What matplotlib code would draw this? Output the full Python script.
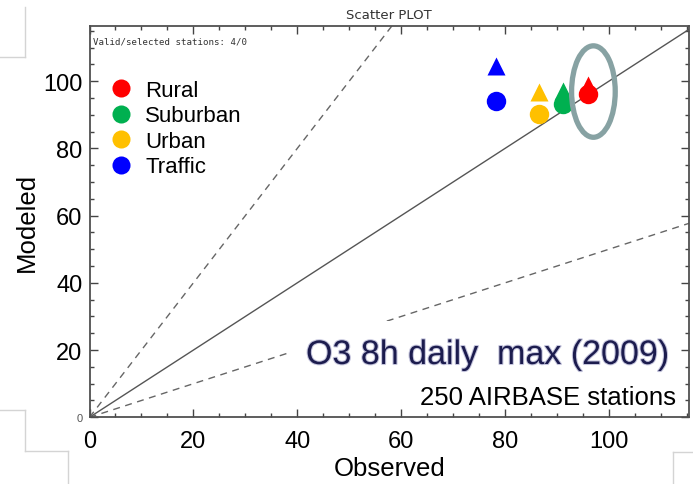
import numpy as np
import matplotlib
matplotlib.use('Agg')
import matplotlib.pyplot as plt
import matplotlib.patheffects as pe
from matplotlib.patches import Ellipse, Rectangle
from matplotlib.lines import Line2D

# station types and their mean values (observed vs modeled)
categories = ['Rural', 'Suburban', 'Urban', 'Traffic']
colors = ['#ff0000', '#00b050', '#ffc000', '#0000ff']
observed = [96.0, 91.1, 86.5, 78.3]
modeled_circle = [96.2, 93.1, 90.3, 94.2]
modeled_triangle = [98.9, 97.0, 96.8, 104.5]

xticks = [0, 20, 40, 60, 80, 100]
yticks = [0, 20, 40, 60, 80, 100]
xmax, ymax = 115.4, 116.4

plt.rcParams['font.family'] = ['Liberation Sans', 'DejaVu Sans']

W, H = 693, 485
fig = plt.figure(figsize=(W / 100, H / 100), dpi=100)
fx = lambda px: px / W
fy = lambda py: 1 - py / H
ax = fig.add_axes([fx(89.5), fy(418.3), fx(689) - fx(89.5), fy(27) - fy(418.3)])

# 1:1 line and factor-2 lines
xx = np.array([0, xmax])
ax.plot(xx, xx, c='#555555', lw=1.0, zorder=2)
ax.plot(xx, 2 * xx, c='#666666', lw=1.0, ls=(0, (5, 4)), zorder=2)
ax.plot(xx, 0.5 * xx, c='#666666', lw=1.0, ls=(0, (5, 4)), zorder=2)

# white box behind the annotation (hides part of the lower dashed line)
ax.add_patch(Rectangle((fx(290), fy(410)), fx(677) - fx(290), fy(322) - fy(410),
                       transform=fig.transFigure, facecolor='white', edgecolor='none',
                       zorder=3, clip_on=False))

for o, mc, mt, c in zip(observed, modeled_circle, modeled_triangle, colors):
    ax.plot(o, mt, marker='^', ms=13.5, c=c, mec='none', zorder=5)
    ax.plot(o, mc, marker='o', ms=14, c=c, mec='none', zorder=5)

# highlight of the rural point
ax.add_patch(Ellipse((observed[0] + 1.0, 96.9), 8.4, 27.2, fill=False,
                     ec='#87a2a3', lw=3.8, zorder=6))

ax.set_xlim(0, xmax)
ax.set_ylim(0, ymax)
ax.set_xticks(xticks)
ax.set_yticks(yticks)
ax.set_xticks(np.arange(0, xmax, 5), minor=True)
ax.set_yticks(np.arange(0, ymax, 5), minor=True)
ax.set_xticklabels([str(t) for t in xticks], fontsize=17)
ax.set_yticklabels([str(t) for t in yticks], fontsize=17)
lab0 = ax.get_yticklabels()[0]
lab0.set_fontsize(8)
lab0.set_color('#555555')

ax.tick_params(which='both', direction='in', top=True, right=True, color='#444444')
ax.tick_params(which='major', length=6, width=1)
ax.tick_params(which='minor', length=3, width=1)
ax.tick_params(axis='x', which='major', pad=9)
ax.tick_params(axis='y', which='major', pad=5)
for s in ax.spines.values():
    s.set_color('#505050')
    s.set_linewidth(1.3)

ax.set_xlabel('Observed', fontsize=18.5, labelpad=3)
ax.set_ylabel('Modeled', fontsize=18.5, labelpad=3)
ax.set_title('Scatter PLOT', fontsize=9.5, family='DejaVu Sans', color='#333333', pad=6)
ax.text(0.006, 0.962, 'Valid/selected stations: 4/0', transform=ax.transAxes,
        fontsize=6.6, family='DejaVu Sans Mono', color='#333333', va='center')

# legend
handles = [Line2D([], [], ls='none', marker='o', ms=13, c=c, mec='none') for c in colors]
ax.legend(handles, categories, loc='upper left', bbox_to_anchor=(0.034, 0.862),
          frameon=False, fontsize=16, handlelength=1.0, handletextpad=0.6,
          borderpad=0, labelspacing=0.2, borderaxespad=0)

# annotation text
ax.text(fx(670), fy(365), 'O3 8h daily  max (2009)', transform=fig.transFigure,
        ha='right', va='baseline', fontsize=24.5, color='#1c1c4e', zorder=7,
        path_effects=[pe.withStroke(linewidth=1.5, foreground='#c4c4dc')])
ax.text(fx(676), fy(405), '250 AIRBASE stations', transform=fig.transFigure,
        ha='right', va='baseline', fontsize=18.5, color='black', zorder=7)

# light frame pieces of the slide background
frame = [
    ([25, 25], [8, 58]), ([0, 25], [58, 58]),
    ([0, 25], [411, 411]), ([25, 25], [411, 452]), ([25, 68], [452, 452]), ([68, 68], [452, 485]),
    ([673, 673], [453, 485]), ([673, 693], [453, 453]),
]
for px, py in frame:
    fig.add_artist(Line2D([fx(p) for p in px], [fy(p) for p in py], color='#d4d4d4', lw=1))

fig.savefig('out.png', dpi=100)
